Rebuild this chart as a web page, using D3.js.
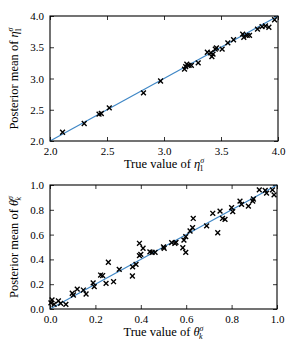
<!DOCTYPE html>
<html>
<head>
<meta charset="utf-8">
<script src="https://cdn.jsdelivr.net/npm/d3@7"></script>
<style>
  body { margin: 0; background: #fff; }
  svg text { font-family: "Liberation Serif", "DejaVu Serif", serif; fill: #000; }
</style>
</head>
<body>
<div id="chart"></div>
<script>
// top panel: eta_1^sigma
const etaTrue = [2.11, 2.30, 2.43, 2.45, 2.52, 2.82, 2.97, 3.18, 3.19, 3.20, 3.22, 3.24, 3.30,
  3.38, 3.41, 3.42, 3.43, 3.45, 3.46, 3.51, 3.56, 3.61, 3.69, 3.70, 3.73, 3.75, 3.82, 3.86, 3.89, 3.92, 3.97];
const etaPost = [2.14, 2.28, 2.43, 2.44, 2.53, 2.77, 2.96, 3.15, 3.19, 3.23, 3.21, 3.21, 3.25,
  3.42, 3.41, 3.35, 3.39, 3.47, 3.49, 3.47, 3.57, 3.62, 3.71, 3.66, 3.69, 3.69, 3.79, 3.83, 3.84, 3.82, 3.94];
const etaTicks = [2.0, 2.5, 3.0, 3.5, 4.0];

// bottom panel: theta_k^sigma
const thetaTrue = [0.004, 0.009, 0.018, 0.037, 0.047, 0.07, 0.098, 0.103, 0.12, 0.147, 0.159, 0.19, 0.195,
  0.223, 0.232, 0.247, 0.257, 0.28, 0.305, 0.363, 0.364, 0.379, 0.394, 0.40, 0.394, 0.41, 0.44, 0.45, 0.463,
  0.50, 0.503, 0.536, 0.55, 0.555, 0.585, 0.598, 0.59, 0.598, 0.617, 0.628, 0.631, 0.69, 0.717, 0.739, 0.749,
  0.76, 0.771, 0.80, 0.805, 0.837, 0.844, 0.874, 0.893, 0.896, 0.922, 0.948, 0.954, 0.98, 0.987];
const thetaPost = [0.05, 0.073, 0.038, 0.065, 0.046, 0.038, 0.127, 0.113, 0.16, 0.153, 0.121, 0.21, 0.18,
  0.274, 0.27, 0.207, 0.377, 0.22, 0.32, 0.266, 0.34, 0.36, 0.43, 0.44, 0.53, 0.49, 0.46, 0.457, 0.457,
  0.50, 0.49, 0.535, 0.53, 0.538, 0.494, 0.457, 0.556, 0.583, 0.629, 0.656, 0.73, 0.67, 0.772, 0.615, 0.79,
  0.73, 0.723, 0.817, 0.785, 0.87, 0.844, 0.83, 0.87, 0.887, 0.96, 0.957, 0.935, 0.96, 0.92];
const thetaTicks = [0.0, 0.2, 0.4, 0.6, 0.8, 1.0];

const width = 291;
const height = 352;
const serif = "'Liberation Serif', 'DejaVu Serif', serif";

const svg = d3.select("#chart")
    .append("svg")
    .attr("width", width)
    .attr("height", height)
    .attr("font-family", serif);

// sym: greek letter, sub: subscript, sup: superscript
function mathLabel(text, prefix, sym, sub, sup) {
    text.append("tspan").text(prefix);
    text.append("tspan").style("font-style", "italic").text(sym);
    text.append("tspan").attr("dy", -5).style("font-size", "8px").style("font-style", "italic").text(sup);
    text.append("tspan").attr("dx", -4.5).attr("dy", 8).style("font-size", "8px")
        .style("font-style", sub === "k" ? "italic" : "normal").text(sub);
}

function panel(opts) {
    const g = svg.append("g").attr("transform", `translate(${opts.left},${opts.top})`);
    const w = opts.w, h = opts.h;

    const x = d3.scaleLinear().domain(opts.domain).range([0, w]);
    const y = d3.scaleLinear().domain(opts.domain).range([h, 0]);

    // inward ticks on all four sides
    const tickLen = 4;
    const axes = [
        g.append("g").attr("transform", `translate(0,${h})`)
            .call(d3.axisBottom(x).tickValues(opts.ticks).tickSize(-tickLen).tickPadding(6).tickFormat(d3.format(".1f"))),
        g.append("g")
            .call(d3.axisTop(x).tickValues(opts.ticks).tickSize(-tickLen).tickFormat("")),
        g.append("g")
            .call(d3.axisLeft(y).tickValues(opts.ticks).tickSize(-tickLen).tickPadding(6).tickFormat(d3.format(".1f"))),
        g.append("g").attr("transform", `translate(${w},0)`)
            .call(d3.axisRight(y).tickValues(opts.ticks).tickSize(-tickLen).tickFormat(""))
    ];
    axes.forEach(a => a.attr("font-family", serif).attr("font-size", 11));

    g.selectAll(".domain").remove();
    g.selectAll(".tick line").attr("stroke", "#000").attr("stroke-width", 0.8);

    // diagonal
    g.append("line")
        .attr("x1", x(opts.domain[0])).attr("y1", y(opts.domain[0]))
        .attr("x2", x(opts.domain[1])).attr("y2", y(opts.domain[1]))
        .attr("stroke", "#3f87c6")
        .attr("stroke-width", 1.2);

    // x markers
    const s = 2.4;
    const pts = opts.xs.map((v, i) => [v, opts.ys[i]]);
    g.selectAll("path.pt")
        .data(pts)
        .enter()
        .append("path")
        .attr("class", "pt")
        .attr("d", d => {
            const cx = x(d[0]), cy = y(d[1]);
            return `M${cx - s},${cy - s}L${cx + s},${cy + s}M${cx - s},${cy + s}L${cx + s},${cy - s}`;
        })
        .attr("stroke", "#000")
        .attr("stroke-width", 1.4)
        .attr("fill", "none");

    // frame
    g.append("rect")
        .attr("width", w).attr("height", h)
        .attr("fill", "none")
        .attr("stroke", "#000")
        .attr("stroke-width", 1.1);

    const xl = svg.append("text")
        .attr("x", opts.left + w / 2)
        .attr("y", opts.top + h + 27)
        .attr("text-anchor", "middle")
        .style("font-size", "12.5px");
    mathLabel(xl, "True value of ", opts.sym, opts.sub, "σ");

    const yl = svg.append("text")
        .attr("transform", `translate(18,${opts.top + h / 2}) rotate(-90)`)
        .attr("text-anchor", "middle")
        .style("font-size", "12.5px");
    mathLabel(yl, "Posterior mean of ", opts.sym, opts.sub, "σ");
}

panel({ left: 50, top: 16, w: 228, h: 125, domain: [2, 4], ticks: etaTicks,
        xs: etaTrue, ys: etaPost, sym: "η", sub: "1" });
panel({ left: 50, top: 185, w: 227, h: 124, domain: [0, 1], ticks: thetaTicks,
        xs: thetaTrue, ys: thetaPost, sym: "θ", sub: "k" });
</script>
</body>
</html>
